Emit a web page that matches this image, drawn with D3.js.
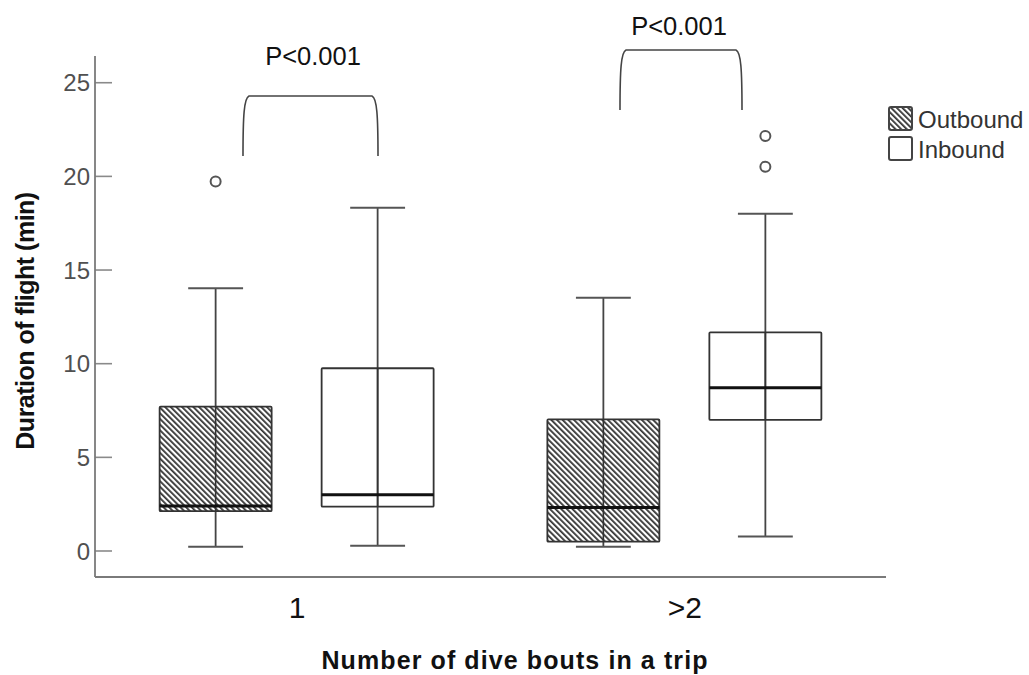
<!DOCTYPE html>
<html>
<head>
<meta charset="utf-8">
<script src="https://cdn.jsdelivr.net/npm/d3@7"></script>
<style>
  html, body { margin: 0; padding: 0; background: #fff; }
  svg { display: block; font-family: "Liberation Sans", Arial, sans-serif; }
</style>
</head>
<body>
<svg id="chart" width="1029" height="675"></svg>
<script>
// ---- data ----
const groups = ["1", ">2"];
const series = ["Outbound", "Inbound"];
const outboundStats = [
  { group: "1",  min: 0.2,  q1: 2.1,  median: 2.37, q3: 7.68, max: 14.0 },
  { group: ">2", min: 0.2,  q1: 0.47, median: 2.29, q3: 7.0,  max: 13.5 }
];
const inboundStats = [
  { group: "1",  min: 0.26, q1: 2.34, median: 2.98, q3: 9.73,  max: 18.3 },
  { group: ">2", min: 0.75, q1: 6.97, median: 8.69, q3: 11.65, max: 17.98 }
];
const outboundOutliers = [ { group: "1", value: 19.7 } ];
const inboundOutliers = [ { group: ">2", value: 22.13 }, { group: ">2", value: 20.49 } ];
const yTicks = [0, 5, 10, 15, 20, 25];
const pLabels = ["P<0.001", "P<0.001"];

// ---- layout ----
const svg = d3.select("#chart");
const x0 = 95, x1 = 886, yBottom = 577, yTop = 56;

const x = d3.scalePoint().domain(groups).range([x0, x1]).padding(0.52);
const xs = d3.scaleBand().domain(series).range([-137, 137]).paddingInner(0.3086).paddingOuter(0);
const y = d3.scaleLinear().domain([-1.415, 26.4]).range([yBottom, yTop]);

// hatch pattern
const defs = svg.append("defs");
const pat = defs.append("pattern")
  .attr("id", "hatch").attr("patternUnits", "userSpaceOnUse")
  .attr("width", 4).attr("height", 4)
  .attr("patternTransform", "rotate(-45)");
pat.append("rect").attr("width", 4).attr("height", 4).attr("fill", "#fff");
pat.append("line").attr("x1", 0).attr("y1", 0).attr("x2", 0).attr("y2", 4)
  .attr("stroke", "#333").attr("stroke-width", 3.6);

// axes
const yAxis = d3.axisRight(y).tickValues(yTicks).tickSize(17).tickFormat(d3.format("d"));
const gy = svg.append("g").attr("transform", `translate(${x0},0)`).call(yAxis);
gy.select(".domain").remove();
gy.selectAll(".tick line").attr("stroke", "#8a8a8a").attr("stroke-width", 1.6);
gy.selectAll(".tick text").attr("x", -5).attr("text-anchor", "end")
  .attr("fill", "#505050").attr("font-size", 24).attr("dy", "0.36em");
svg.append("line").attr("x1", x0).attr("x2", x0).attr("y1", yTop).attr("y2", yBottom)
  .attr("stroke", "#7a7a7a").attr("stroke-width", 1.8);

const xAxis = d3.axisBottom(x).tickSize(0).tickPadding(0);
const gx = svg.append("g").attr("transform", `translate(0,${yBottom})`).call(xAxis);
gx.select(".domain").remove();
gx.selectAll(".tick text").attr("font-size", 30).attr("fill", "#111").attr("dy", "1.35em");
svg.append("line").attr("x1", x0).attr("x2", x1).attr("y1", yBottom).attr("y2", yBottom)
  .attr("stroke", "#7a7a7a").attr("stroke-width", 1.8);

// titles
svg.append("text").attr("x", 515).attr("y", 669).attr("text-anchor", "middle")
  .attr("font-size", 25).attr("font-weight", "bold").attr("fill", "#111")
  .attr("letter-spacing", "1.1")
  .text("Number of dive bouts in a trip");
svg.append("text").attr("transform", "translate(34,321) rotate(-90)").attr("text-anchor", "middle")
  .attr("font-size", 25).attr("font-weight", "bold").attr("fill", "#111")
  .attr("letter-spacing", "-0.5")
  .text("Duration of flight (min)");

// boxes
function drawBoxes(stats, name, outliers) {
  const bw = xs.bandwidth();
  const g = svg.append("g");
  stats.forEach(s => {
    const cx = x(s.group) + xs(name) + bw / 2;
    const cap = bw * 0.245;
    g.append("line").attr("x1", cx).attr("x2", cx).attr("y1", y(s.min)).attr("y2", y(s.max))
      .attr("stroke", "#444").attr("stroke-width", 1.8);
    g.append("line").attr("x1", cx - cap).attr("x2", cx + cap).attr("y1", y(s.max)).attr("y2", y(s.max))
      .attr("stroke", "#555").attr("stroke-width", 2);
    g.append("line").attr("x1", cx - cap).attr("x2", cx + cap).attr("y1", y(s.min)).attr("y2", y(s.min))
      .attr("stroke", "#555").attr("stroke-width", 2);
    g.append("rect").attr("x", cx - bw / 2).attr("width", bw)
      .attr("y", y(s.q3)).attr("height", y(s.q1) - y(s.q3))
      .attr("fill", name === "Outbound" ? "url(#hatch)" : "none")
      .attr("stroke", "#333").attr("stroke-width", 1.8).attr("rx", 1);
    g.append("line").attr("x1", cx).attr("x2", cx).attr("y1", y(s.q3)).attr("y2", y(s.q1))
      .attr("stroke", "#333").attr("stroke-width", 1.6);
    g.append("line").attr("x1", cx - bw / 2).attr("x2", cx + bw / 2).attr("y1", y(s.median)).attr("y2", y(s.median))
      .attr("stroke", "#111").attr("stroke-width", 3);
  });
  outliers.forEach(o => {
    const cx = x(o.group) + xs(name) + bw / 2;
    g.append("circle").attr("cx", cx).attr("cy", y(o.value)).attr("r", 5)
      .attr("fill", "none").attr("stroke", "#555").attr("stroke-width", 2);
  });
}
drawBoxes(outboundStats, "Outbound", outboundOutliers);
drawBoxes(inboundStats, "Inbound", inboundOutliers);

// significance brackets (annotation positions)
const brackets = [
  { xl: 243, xr: 378, top: 96, bottom: 156, tx: 313, ty: 65 },
  { xl: 620, xr: 742, top: 50, bottom: 110, tx: 679, ty: 35 }
];
brackets.forEach((b, i) => {
  const r = 6;
  const p = d3.path();
  p.moveTo(b.xl, b.bottom);
  p.bezierCurveTo(b.xl, b.top + 20, b.xl + 1, b.top + 2, b.xl + r, b.top);
  p.lineTo(b.xr - r, b.top);
  p.bezierCurveTo(b.xr - 1, b.top + 2, b.xr, b.top + 20, b.xr, b.bottom);
  svg.append("path").attr("d", p.toString()).attr("fill", "none")
    .attr("stroke", "#444").attr("stroke-width", 1.6);
  svg.append("text").attr("x", b.tx).attr("y", b.ty).attr("text-anchor", "middle")
    .attr("font-size", 25.5).attr("fill", "#111").text(pLabels[i]);
});

// legend
const legend = svg.append("g").attr("transform", "translate(889,107)");
series.forEach((s, i) => {
  const gg = legend.append("g").attr("transform", `translate(0,${i * 30})`);
  gg.append("rect").attr("x", 0).attr("y", 0).attr("width", 23).attr("height", 23).attr("rx", 2)
    .attr("fill", s === "Outbound" ? "url(#hatch)" : "#fff")
    .attr("stroke", "#444").attr("stroke-width", 2);
  gg.append("text").attr("x", 29).attr("y", 20.5).attr("font-size", 24).attr("fill", "#333").text(s);
});
</script>
</body>
</html>
